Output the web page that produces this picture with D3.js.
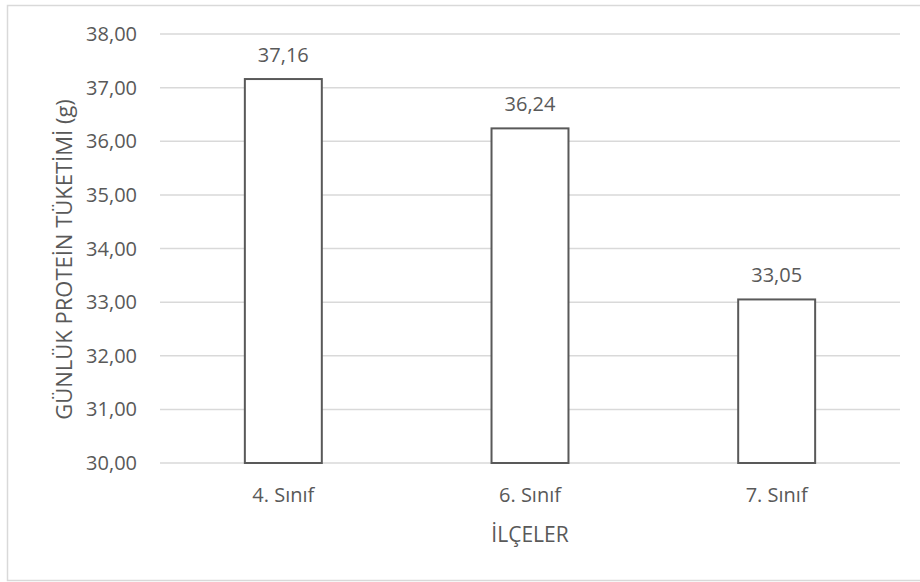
<!DOCTYPE html>
<html>
<head>
<meta charset="utf-8">
<script src="https://cdn.jsdelivr.net/npm/d3@7"></script>
<style>
    body { margin: 0; background: #fff; }
    text { font-family: "Open Sans", sans-serif; fill: #595959; }
</style>
</head>
<body>
<div id="chart"></div>
<script>
const categories = ["4. Sınıf", "6. Sınıf", "7. Sınıf"];
const values = [37.16, 36.24, 33.05];
const yTicks = [30, 31, 32, 33, 34, 35, 36, 37, 38];
const xTitle = "İLÇELER";
const yTitle = "GÜNLÜK PROTEİN TÜKETİMİ (g)";

const width = 920, height = 582;
const margin = { top: 34, right: 20, bottom: 119, left: 160 };
const fmt = v => v.toFixed(2).replace(".", ",");

const svg = d3.select("#chart")
    .append("svg")
    .attr("width", width)
    .attr("height", height);

// chart border
svg.append("rect")
    .attr("x", 7.5)
    .attr("y", 5.5)
    .attr("width", 930)
    .attr("height", 575)
    .attr("fill", "none")
    .attr("stroke", "#d9d9d9")
    .attr("stroke-width", 1.5);

const x = d3.scaleBand()
    .domain(categories)
    .range([margin.left, width - margin.right])
    .paddingInner(0.688)
    .paddingOuter(0.344);

const y = d3.scaleLinear()
    .domain([30, 38])
    .range([height - margin.bottom, margin.top]);

// gridlines
svg.append("g")
    .selectAll("line")
    .data(yTicks)
    .enter()
    .append("line")
    .attr("x1", margin.left)
    .attr("x2", width - margin.right)
    .attr("y1", d => y(d))
    .attr("y2", d => y(d))
    .attr("stroke", "#d9d9d9")
    .attr("stroke-width", 1.5);

// y tick labels
svg.append("g")
    .selectAll("text")
    .data(yTicks)
    .enter()
    .append("text")
    .attr("x", 137)
    .attr("y", d => y(d))
    .attr("dy", "0.35em")
    .attr("text-anchor", "end")
    .style("font-size", "20px")
    .text(d => fmt(d));

// bars
svg.append("g")
    .selectAll("rect")
    .data(values)
    .enter()
    .append("rect")
    .attr("x", (d, i) => x(categories[i]))
    .attr("y", d => y(d))
    .attr("width", x.bandwidth())
    .attr("height", d => y(30) - y(d))
    .attr("fill", "#fff")
    .attr("stroke", "#595959")
    .attr("stroke-width", 2);

// value labels
svg.append("g")
    .selectAll("text")
    .data(values)
    .enter()
    .append("text")
    .attr("x", (d, i) => x(categories[i]) + x.bandwidth() / 2)
    .attr("y", d => y(d) - 17)
    .attr("text-anchor", "middle")
    .style("font-size", "20px")
    .text(d => fmt(d));

// category labels
svg.append("g")
    .selectAll("text")
    .data(categories)
    .enter()
    .append("text")
    .attr("x", d => x(d) + x.bandwidth() / 2)
    .attr("y", 502)
    .attr("text-anchor", "middle")
    .style("font-size", "20px")
    .text(d => d);

// axis titles
svg.append("text")
    .attr("x", (margin.left + width - margin.right) / 2)
    .attr("y", 542)
    .attr("text-anchor", "middle")
    .style("font-size", "21px")
    .text(xTitle);

svg.append("text")
    .attr("transform", `translate(72, ${(y(30) + y(38)) / 2 + 11}) rotate(-90)`)
    .attr("text-anchor", "middle")
    .style("font-size", "22px")
    .text(yTitle);
</script>
</body>
</html>
